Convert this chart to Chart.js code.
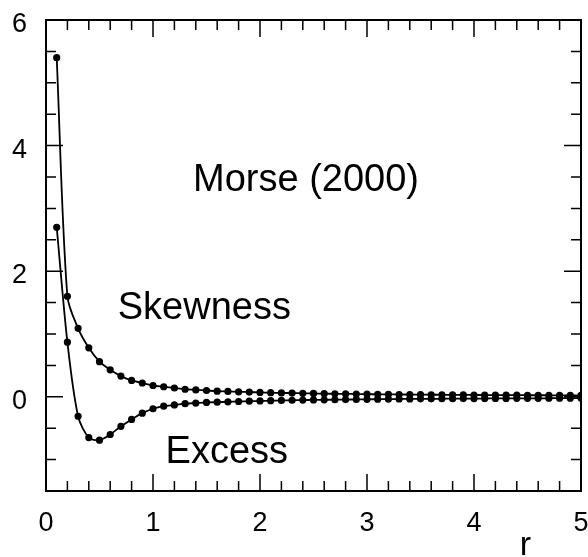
<!DOCTYPE html>
<html>
<head>
<meta charset="utf-8">
<script src="https://cdn.jsdelivr.net/npm/chart.js@4/dist/chart.umd.min.js"></script>
<style>
  html, body { margin: 0; padding: 0; background: #fff; }
  #wrap { width: 588px; height: 557px; }
</style>
</head>
<body>
<div id="wrap"><canvas id="momentsChart" width="588" height="557"></canvas></div>
<script>
const rValues = [
  0.1, 0.2, 0.3, 0.4, 0.5, 0.6, 0.7, 0.8, 0.9, 1.0,
  1.1, 1.2, 1.3, 1.4, 1.5, 1.6, 1.7, 1.8, 1.9, 2.0,
  2.1, 2.2, 2.3, 2.4, 2.5, 2.6, 2.7, 2.8, 2.9, 3.0,
  3.1, 3.2, 3.3, 3.4, 3.5, 3.6, 3.7, 3.8, 3.9, 4.0,
  4.1, 4.2, 4.3, 4.4, 4.5, 4.6, 4.7, 4.8, 4.9, 5.0,
];
const skewness = [
  5.4, 1.6, 1.09, 0.78, 0.56, 0.43, 0.33, 0.26, 0.22, 0.18,
  0.16, 0.14, 0.12, 0.11, 0.10, 0.09, 0.085, 0.08, 0.075, 0.07,
  0.066, 0.062, 0.059, 0.056, 0.053, 0.05, 0.048, 0.046, 0.044, 0.042,
  0.04, 0.039, 0.037, 0.036, 0.035, 0.033, 0.032, 0.031, 0.03, 0.029,
  0.028, 0.028, 0.027, 0.026, 0.025, 0.025, 0.024, 0.023, 0.023, 0.022,
];
const excess = [
  2.7, 0.87, -0.31, -0.65, -0.69, -0.60, -0.47, -0.36, -0.26, -0.19,
  -0.15, -0.13, -0.11, -0.10, -0.09, -0.085, -0.08, -0.075, -0.07, -0.066,
  -0.062, -0.058, -0.055, -0.052, -0.05, -0.048, -0.046, -0.044, -0.042, -0.04,
  -0.038, -0.037, -0.035, -0.034, -0.033, -0.032, -0.031, -0.03, -0.029, -0.028,
  -0.027, -0.026, -0.026, -0.025, -0.024, -0.024, -0.023, -0.022, -0.022, -0.021,
];
const xTickLabels = [0, 1, 2, 3, 4, 5];
const yTickLabels = [0, 2, 4, 6];
// text labels placed in data units (baseline at y)
const curveLabels = [
  { text: "Morse (2000)", x: 2.43, y: 3.27 },
  { text: "Skewness", x: 1.48, y: 1.24 },
  { text: "Excess", x: 1.69, y: -1.06 },
];
const axisTitle = { text: "r", x: 4.48 };

const FONT = "'Liberation Sans', Arial, Helvetica, sans-serif";

const frameTicks = {
  id: "frameTicks",
  afterDraw(chart) {
    const { ctx, chartArea: a, scales: { x, y } } = chart;
    ctx.save();
    ctx.strokeStyle = "#000";
    ctx.lineWidth = 2;
    ctx.strokeRect(a.left, a.top, a.right - a.left, a.bottom - a.top);
    ctx.lineWidth = 1.5;
    ctx.beginPath();
    for (let i = 0; i <= 25; i++) {
      const px = x.getPixelForValue(i * 0.2);
      const len = i % 5 === 0 ? 17 : 10;
      ctx.moveTo(px, a.bottom); ctx.lineTo(px, a.bottom - len);
      ctx.moveTo(px, a.top); ctx.lineTo(px, a.top + len);
    }
    for (let i = 0; i <= 15; i++) {
      const v = -1.5 + i * 0.5;
      const py = y.getPixelForValue(v);
      const len = v % 2 === 0 ? 17 : 10;
      ctx.moveTo(a.left, py); ctx.lineTo(a.left + len, py);
      ctx.moveTo(a.right, py); ctx.lineTo(a.right - len, py);
    }
    ctx.stroke();

    ctx.fillStyle = "#000";
    ctx.textBaseline = "alphabetic";
    ctx.font = `27px ${FONT}`;
    ctx.textAlign = "center";
    xTickLabels.forEach((v) => ctx.fillText(String(v), x.getPixelForValue(v), 531));
    ctx.textAlign = "right";
    yTickLabels.forEach((v) => ctx.fillText(String(v), a.left - 19, y.getPixelForValue(v) + 12));

    ctx.font = `38px ${FONT}`;
    ctx.textAlign = "center";
    curveLabels.forEach((l) => {
      ctx.fillText(l.text, x.getPixelForValue(l.x), y.getPixelForValue(l.y));
    });
    ctx.font = `34px ${FONT}`;
    ctx.fillText(axisTitle.text, x.getPixelForValue(axisTitle.x), 555);
    ctx.restore();
  },
};

const series = (values) => rValues.map((r, i) => ({ x: r, y: values[i] }));
const lineStyle = {
  borderColor: "#000",
  backgroundColor: "#000",
  borderWidth: 1.8,
  pointRadius: 2.7,
  pointHoverRadius: 2.7,
  tension: 0.3,
  showLine: true,
  fill: false,
};

new Chart(document.getElementById("momentsChart"), {
  type: "scatter",
  data: {
    datasets: [
      { label: "Skewness", data: series(skewness), ...lineStyle },
      { label: "Excess", data: series(excess), ...lineStyle },
    ],
  },
  options: {
    responsive: false,
    animation: false,
    layout: { padding: { top: 20, right: 7, left: 0, bottom: 0 } },
    plugins: { legend: { display: false }, tooltip: { enabled: false } },
    scales: {
      x: {
        type: "linear", min: 0, max: 5,
        grid: { display: false }, border: { display: false },
        ticks: { display: false },
        afterFit: (s) => { s.height = 66; },
      },
      y: {
        type: "linear", min: -1.5, max: 6,
        grid: { display: false }, border: { display: false },
        ticks: { display: false },
        afterFit: (s) => { s.width = 46; },
      },
    },
  },
  plugins: [frameTicks],
});
</script>
</body>
</html>
